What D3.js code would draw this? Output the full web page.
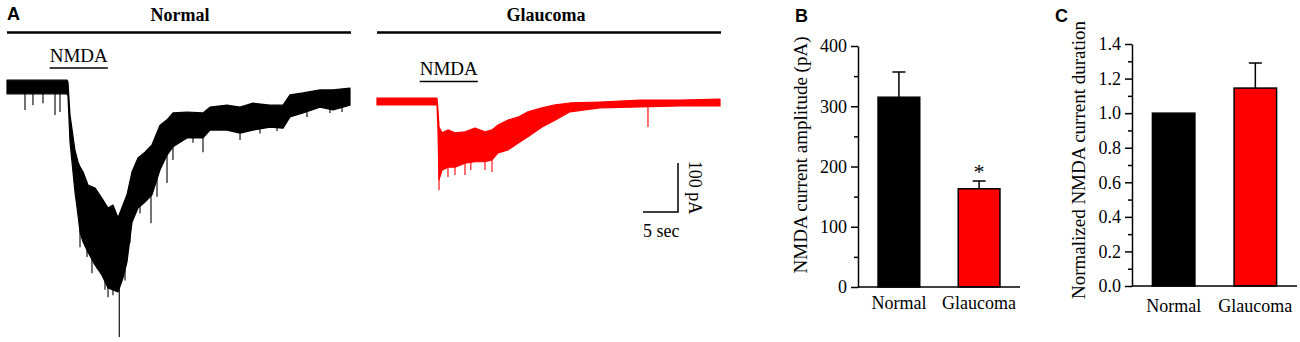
<!DOCTYPE html>
<html>
<head>
<meta charset="utf-8">
<script src="https://cdn.jsdelivr.net/npm/d3@7"></script>
<style>
  body { margin: 0; background: #fff; }
  svg { display: block; }
  text { font-family: "Liberation Serif", "Times New Roman", serif; fill: #000; }
  .panel { font-family: "Liberation Sans", Arial, sans-serif; font-weight: bold; font-size: 18px; }
</style>
</head>
<body>
<div id="fig"></div>
<script>
// ---------------------------------------------------------------
// Data

// panel A, whole-cell traces: time (s), upper and lower edge of the noisy band (pA)
const normalTime  = [0, 8.57, 8.71, 9.0, 9.71, 10.14, 10.43, 10.86, 11.57, 12.57, 13.57, 14.43, 15.14, 15.86, 16.57, 17.14, 17.86, 18.71, 19.71, 20.71, 21.86, 22.86, 23.71, 25.71, 28.0, 29.0, 31.43, 33.29, 35.14, 37.57, 39.43, 40.43, 42.29, 44.71, 46.57, 49.0];
const normalUpper = [14, 14, 10, -57, -129, -153, -163, -173, -200, -206, -227, -247, -241, -267, -241, -220, -173, -145, -133, -118, -78, -67, -53, -51, -53, -41, -37, -41, -33, -37, -37, -16, -12, -6, -6, -2];
const normalLower = [-14, -14, -18, -112, -214, -261, -296, -316, -337, -363, -384, -410, -414, -418, -390, -357, -276, -247, -235, -220, -169, -139, -122, -104, -104, -88, -88, -94, -88, -82, -84, -61, -53, -41, -47, -37];
// spikes sticking out of the band: [time, tip in pA]
const normalSpikes = [[2.57, -47], [3.71, -37], [5.14, -33], [6.86, -57], [7.57, -51],
  [10.43, -327], [11.43, -347], [12.14, -380], [12.86, -370], [14.0, -414], [14.43, -429], [15.14, -425],
  [16.04, -510], [16.86, -395], [17.57, -318], [19.0, -258], [20.57, -278], [21.43, -224], [22.86, -196],
  [23.71, -149], [26.57, -114], [28.0, -133], [33.29, -108], [36.14, -95], [38.57, -90], [42.86, -61],
  [46.14, -53], [47.86, -51]];

const glaucomaTime  = [0, 8.57, 8.71, 8.86, 9.29, 10.14, 11.14, 12.57, 14.0, 15.43, 16.43, 17.29, 18.71, 20.14, 21.57, 23.57, 25.43, 27.57, 31.86, 37.57, 43.29, 49.0];
const glaucomaUpper = [7, 7, -17, -52, -64, -58, -64, -62, -54, -62, -58, -48, -38, -32, -21, -13, -7, -3, -1, 3, 3, 5];
const glaucomaLower = [-7, -7, -58, -160, -140, -134, -134, -126, -123, -123, -119, -105, -99, -85, -72, -52, -38, -21, -13, -11, -9, -9];
const glaucomaSpikes = [[8.86, -181], [10.14, -154], [11.14, -150], [12.57, -150], [13.4, -140],
  [15.43, -140], [16.43, -144], [38.71, -52]];

// NMDA application window (s)
const nmdaOn = [6.1, 14.4];

// panels B and C
const groups = ["Normal", "Glaucoma"];
const barColors = ["#000000", "#ff0000"];
const amplitudeMean = [315, 163];
const amplitudeSem = [42, 13];
const durationMean = [1.0, 1.145];
const durationSem = [0, 0.145];

// ---------------------------------------------------------------
const W = 1300, H = 342;
const svg = d3.select("#fig").append("svg").attr("width", W).attr("height", H);

// ---------------- Panel A ----------------
svg.append("text").attr("class", "panel").attr("x", 7).attr("y", 20).text("A");

function drawTrace(opt) {
  const x = d3.scaleLinear().domain([0, 49]).range([opt.x0, opt.x0 + 343]);
  const y = d3.scaleLinear().domain([0, -100]).range([opt.y0, opt.y0 + 49]);
  const g = svg.append("g");

  // header with rule
  g.append("text").attr("x", opt.hx).attr("y", 21).attr("text-anchor", "middle")
    .attr("font-size", 18).attr("font-weight", "bold").text(opt.title);
  g.append("line").attr("x1", opt.x0).attr("x2", opt.x0 + 344).attr("y1", 32.5).attr("y2", 32.5)
    .attr("stroke", "#000").attr("stroke-width", 2.6);

  // NMDA bar
  g.append("text").attr("x", x(nmdaOn[0])).attr("y", opt.labelY).attr("font-size", 19)
    .attr("textLength", x(nmdaOn[1]) - x(nmdaOn[0])).attr("lengthAdjust", "spacingAndGlyphs").text("NMDA");
  g.append("line").attr("x1", x(nmdaOn[0])).attr("x2", x(nmdaOn[1]))
    .attr("y1", opt.labelY + 6.5).attr("y2", opt.labelY + 6.5)
    .attr("stroke", "#000").attr("stroke-width", 1.6);

  const pts = opt.time.map((t, i) => [t, opt.upper[i], opt.lower[i]]);
  const area = d3.area().x(d => x(d[0])).y0(d => y(d[2])).y1(d => y(d[1]));
  g.append("path").datum(pts).attr("d", area)
    .attr("fill", opt.color).attr("stroke", opt.color).attr("stroke-width", 1.2).attr("stroke-linejoin", "round");

  // spikes start at the middle of the band
  const midAt = d3.scaleLinear().domain(opt.time).range(opt.time.map((t, i) => (opt.upper[i] + opt.lower[i]) / 2));
  g.selectAll(".spike").data(opt.spikes).join("line")
    .attr("x1", d => x(d[0])).attr("x2", d => x(d[0]))
    .attr("y1", d => y(midAt(d[0]))).attr("y2", d => y(d[1]))
    .attr("stroke", opt.color).attr("stroke-width", 1.1);
  return { x, y };
}

drawTrace({ title: "Normal", hx: 180, x0: 7, y0: 87, labelY: 61.5, color: "#000",
  time: normalTime, upper: normalUpper, lower: normalLower, spikes: normalSpikes });
drawTrace({ title: "Glaucoma", hx: 546, x0: 377, y0: 101.5, labelY: 75, color: "#ff0000",
  time: glaucomaTime, upper: glaucomaUpper, lower: glaucomaLower, spikes: glaucomaSpikes });

// scale bar: 5 sec / 100 pA
const sb = svg.append("g");
const sbX = 678, sbY = 212, pxPerSec = 7, pxPer100 = 49;
sb.append("path").attr("d", `M${sbX - 5 * pxPerSec},${sbY}H${sbX}V${sbY - pxPer100}`)
  .attr("fill", "none").attr("stroke", "#000").attr("stroke-width", 1.5);
sb.append("text").attr("x", sbX - 5 * pxPerSec).attr("y", 237).attr("font-size", 18).text("5 sec");
sb.append("text").attr("transform", `translate(689,${sbY - pxPer100 / 2}) rotate(90)`)
  .attr("text-anchor", "middle").attr("font-size", 18).text("100 pA");

// ---------------- Bar panels ----------------
function barPanel(opt) {
  const x = d3.scaleBand().domain(groups).range([opt.left, opt.right]).paddingInner(0.48).paddingOuter(0.25);
  const y = d3.scaleLinear().domain(opt.domain).range([opt.bottom, opt.top]);
  const g = svg.append("g");

  svg.append("text").attr("class", "panel").attr("x", opt.letterX).attr("y", 22).text(opt.letter);

  // bars
  g.selectAll(".bar").data(groups).join("rect")
    .attr("x", d => x(d)).attr("width", x.bandwidth())
    .attr("y", (d, i) => y(opt.mean[i])).attr("height", (d, i) => opt.bottom - y(opt.mean[i]))
    .attr("fill", (d, i) => barColors[i]).attr("stroke", "#000").attr("stroke-width", 1.5);

  // error bars (upper only)
  const err = groups.map((d, i) => ({ c: x(d) + x.bandwidth() / 2, m: opt.mean[i], s: opt.sem[i] })).filter(d => d.s > 0);
  g.selectAll(".err").data(err).join("path")
    .attr("d", d => `M${d.c},${y(d.m)}V${y(d.m + d.s)}M${d.c - 6.5},${y(d.m + d.s)}H${d.c + 6.5}`)
    .attr("fill", "none").attr("stroke", "#000").attr("stroke-width", 1.5);

  // y axis: major + minor ticks
  const yAxis = d3.axisLeft(y).tickValues(opt.major).tickSize(7).tickSizeOuter(0).tickPadding(4).tickFormat(opt.fmt);
  const ga = g.append("g").attr("transform", `translate(${opt.left},0)`).call(yAxis);
  ga.selectAll("text").attr("font-size", 18).attr("font-family", "Liberation Serif, Times New Roman, serif");
  const gm = g.append("g").attr("transform", `translate(${opt.left},0)`)
    .call(d3.axisLeft(y).tickValues(opt.minor).tickSize(4).tickFormat(""));
  gm.select(".domain").remove();
  g.selectAll(".domain, .tick line").attr("stroke", "#000").attr("stroke-width", 1.5);

  // x axis line and labels
  g.append("line").attr("x1", opt.left).attr("x2", opt.right).attr("y1", opt.bottom).attr("y2", opt.bottom)
    .attr("stroke", "#000").attr("stroke-width", 1.5);
  g.selectAll(".xl").data(groups).join("text")
    .attr("x", d => x(d) + x.bandwidth() / 2).attr("y", opt.labelY)
    .attr("text-anchor", "middle").attr("font-size", 18).text(d => d);

  // y title
  g.append("text").attr("transform", `translate(${opt.titleX},${opt.titleY}) rotate(-90)`)
    .attr("text-anchor", "middle").attr("font-size", 19).text(opt.title);
  return { x, y, g };
}

const pB = barPanel({ letter: "B", letterX: 795, left: 858, right: 1020, top: 46, bottom: 287, domain: [0, 400],
  major: [0, 100, 200, 300, 400], minor: [50, 150, 250, 350], fmt: d3.format("d"),
  mean: amplitudeMean, sem: amplitudeSem, labelY: 309, titleX: 807, titleY: 155,
  title: "NMDA current amplitude (pA)" });
// significance mark
pB.g.append("text").attr("x", pB.x("Glaucoma") + pB.x.bandwidth() / 2)
  .attr("y", pB.y(amplitudeMean[1] + amplitudeSem[1]) - 2).attr("text-anchor", "middle")
  .attr("font-size", 22).text("*");

barPanel({ letter: "C", letterX: 1055, left: 1132, right: 1297, top: 44, bottom: 286, domain: [0, 1.4],
  major: [0, 0.2, 0.4, 0.6, 0.8, 1.0, 1.2, 1.4], minor: [0.1, 0.3, 0.5, 0.7, 0.9, 1.1, 1.3], fmt: d3.format(".1f"),
  mean: durationMean, sem: durationSem, labelY: 312, titleX: 1085, titleY: 160,
  title: "Normalized NMDA current duration" });
</script>
</body>
</html>
